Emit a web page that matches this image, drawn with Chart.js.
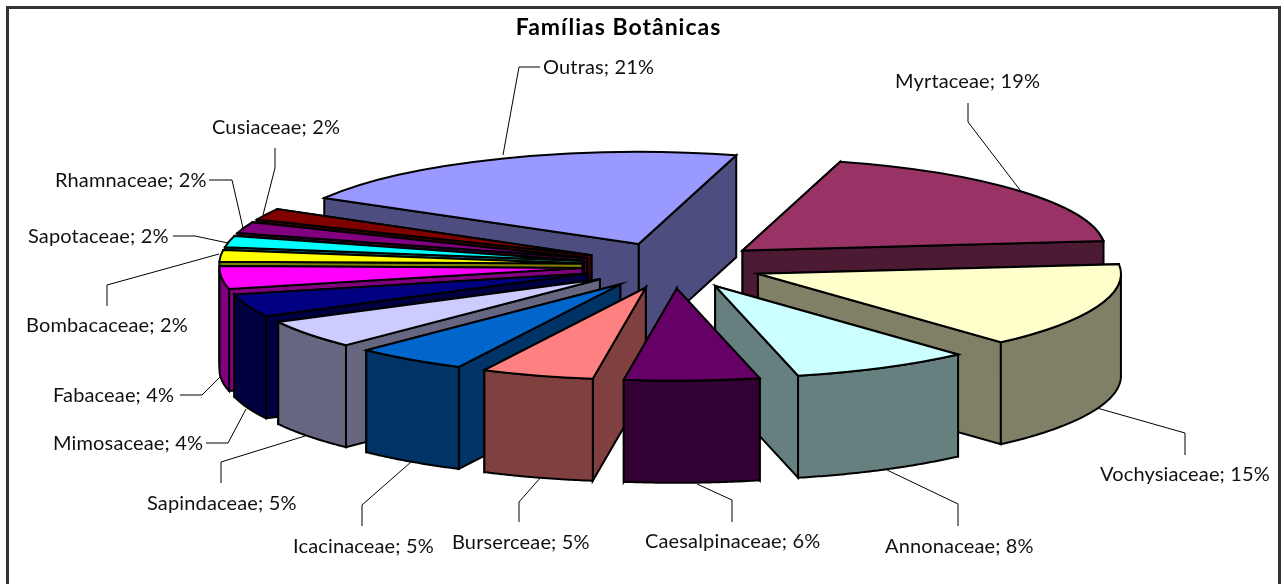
<!DOCTYPE html>
<html>
<head>
<meta charset="utf-8">
<title>Famílias Botânicas</title>
<script src="https://cdn.jsdelivr.net/npm/chart.js@4"></script>
<style>
  html, body { margin: 0; padding: 0; background: #fff; overflow: hidden; }
  canvas { display: block; }
</style>
</head>
<body>
<canvas id="myChart" width="1284" height="584"></canvas>
<script>
const families = ["Outras", "Myrtaceae", "Vochysiaceae", "Annonaceae", "Caesalpinaceae", "Burserceae", "Icacinaceae", "Sapindaceae", "Mimosaceae", "Fabaceae", "Bombacaceae", "Sapotaceae", "Rhamnaceae", "Cusiaceae"]
const percents = [21, 19, 15, 8, 6, 5, 5, 5, 4, 4, 2, 2, 2, 2]
const sliceColors = ["#9999FF", "#993366", "#FFFFCC", "#CCFFFF", "#660066", "#FF8080", "#0066CC", "#CCCCFF", "#000080", "#FF00FF", "#FFFF00", "#00FFFF", "#800080", "#800000"]

// look of the tilted pie, measured on the picture
const pieX = 673
const pieY = 265.5
const tilt = 0.254
const explode = 91
const pieRadius = 363
const wallDepth = 102

// label text position (left, middle) and leader line, one per family
const labelPlaces = [
  { x: 543, y: 68, line: [[540, 67], [519, 67], [503, 155]] },
  { x: 895, y: 82, line: [[968, 103], [968, 122], [1020, 190]] },
  { x: 1100, y: 475, line: [[1185, 455], [1185, 433], [1097, 408]] },
  { x: 885, y: 547, line: [[958, 526], [958, 504], [887, 470]] },
  { x: 645, y: 542, line: [[732, 522], [732, 500], [697, 484]] },
  { x: 452, y: 543, line: [[519, 522], [519, 502], [541, 477]] },
  { x: 293, y: 547, line: [[362, 526], [362, 505], [411, 462]] },
  { x: 147, y: 504, line: [[221, 483], [221, 462], [305, 436]] },
  { x: 53, y: 444, line: [[206, 443], [228, 443], [246, 409]] },
  { x: 53, y: 396, line: [[180, 395], [202, 395], [220, 377]] },
  { x: 26, y: 326, line: [[107, 306], [107, 285], [219, 254]] },
  { x: 28, y: 237, line: [[173, 236], [195, 236], [228, 243]] },
  { x: 55, y: 181, line: [[209, 180], [232, 180], [243, 228]] },
  { x: 212, y: 128, line: [[275, 148], [275, 168], [263, 215]] }
]

function halfColor(hex){
  const n = parseInt(hex.slice(1), 16)
  const r = Math.round((n >> 16) / 2)
  const g = Math.round(((n >> 8) & 255) / 2)
  const b = Math.round((n & 255) / 2)
  return "rgb(" + r + "," + g + "," + b + ")"
}

function midAngle(arc){
  return (arc.startAngle + arc.endAngle) / 2
}

// from the flat pie of the library to the tilted picture
function toScreen(arc, angle, r){
  const mid = midAngle(arc)
  return [
    pieX + explode * Math.cos(mid) + r * Math.cos(angle),
    pieY + tilt * (explode * Math.sin(mid) + r * Math.sin(angle))
  ]
}

function drawFace(ctx, points, color){
  ctx.beginPath()
  points.forEach((p, i) => {
    if(i == 0) ctx.moveTo(p[0], p[1])
    else ctx.lineTo(p[0], p[1])
  })
  ctx.closePath()
  ctx.fillStyle = color
  ctx.fill()
  ctx.stroke()
}

function drawWalls(ctx, arc, color){
  const tip = toScreen(arc, 0, 0)
  const radial = [arc.startAngle, arc.endAngle].map(angle => {
    const rim = toScreen(arc, angle, arc.outerRadius)
    return [tip, rim, [rim[0], rim[1] + wallDepth], [tip[0], tip[1] + wallDepth]]
  })
  // the face lying lower on the page goes on top
  radial.sort((a, b) => a[1][1] - b[1][1])
  radial.forEach(face => drawFace(ctx, face, color))

  // only the front half of the rim can be seen
  const top = []
  const steps = 60
  for(let i = 0; i <= steps; i++){
    const angle = arc.startAngle + (arc.endAngle - arc.startAngle) * i / steps
    if(Math.sin(angle) >= -0.02) top.push(toScreen(arc, angle, arc.outerRadius))
  }
  if(top.length > 1){
    const bottom = top.slice().reverse().map(p => [p[0], p[1] + wallDepth])
    drawFace(ctx, top.concat(bottom), color)
  }
}

function applyTilt(ctx, arc){
  const mid = midAngle(arc)
  ctx.translate(pieX, pieY)
  ctx.scale(1, tilt)
  ctx.translate(explode * Math.cos(mid), explode * Math.sin(mid))
  ctx.translate(-arc.x, -arc.y)
}

const pie3d = {
  id: "pie3d",
  beforeDraw(chart){
    const ctx = chart.ctx
    ctx.save()
    ctx.strokeStyle = "#333333"
    ctx.lineWidth = 3
    ctx.strokeRect(7.5, 7.5, 1272, 640)
    ctx.restore()
    // the original face runs wider than Lato, the title picks this up
    ctx.letterSpacing = "1px"
  },
  beforeDatasetsDraw(chart){
    const ctx = chart.ctx
    const arcs = chart.getDatasetMeta(0).data.slice()
    // back slices first so the front ones can hide them
    arcs.sort((a, b) => Math.sin(midAngle(a)) - Math.sin(midAngle(b)))
    arcs.forEach(arc => {
      const color = sliceColors[chart.getDatasetMeta(0).data.indexOf(arc)]
      ctx.save()
      ctx.strokeStyle = "#000000"
      ctx.lineWidth = 2
      ctx.lineJoin = "miter"
      drawWalls(ctx, arc, halfColor(color))

      ctx.save()
      applyTilt(ctx, arc)
      arc.draw(ctx)
      ctx.restore()

      // outline after the transform is gone, so the line keeps its width
      ctx.save()
      applyTilt(ctx, arc)
      ctx.beginPath()
      ctx.moveTo(arc.x, arc.y)
      ctx.arc(arc.x, arc.y, arc.outerRadius, arc.startAngle, arc.endAngle)
      ctx.closePath()
      ctx.restore()
      ctx.stroke()
      ctx.restore()
    })
    return false
  },
  afterDraw(chart){
    const ctx = chart.ctx
    ctx.save()
    ctx.letterSpacing = "0.15px"
    ctx.font = "20px Lato"
    ctx.fillStyle = "#111111"
    ctx.textAlign = "left"
    ctx.textBaseline = "middle"
    ctx.strokeStyle = "#000000"
    ctx.lineWidth = 1
    families.forEach((name, i) => {
      const place = labelPlaces[i]
      ctx.fillText(name + "; " + percents[i] + "%", place.x, place.y)
      ctx.beginPath()
      place.line.forEach((p, j) => {
        if(j == 0) ctx.moveTo(p[0], p[1])
        else ctx.lineTo(p[0], p[1])
      })
      ctx.stroke()
    })
    ctx.restore()
  }
}

new Chart("myChart", {
  type: "pie",
  data: {
    labels: families,
    datasets: [{
      data: percents,
      backgroundColor: sliceColors,
      borderWidth: 0
    }]
  },
  options: {
    responsive: false,
    animation: false,
    events: [],
    rotation: 300,
    radius: pieRadius,
    layout: { padding: { right: 47 } },
    plugins: {
      legend: { display: false },
      tooltip: { enabled: false },
      title: {
        display: true,
        text: "Famílias Botânicas",
        color: "#000000",
        font: { family: "Lato", size: 23, weight: "bold" },
        padding: { top: 14, bottom: 10 }
      }
    }
  },
  plugins: [pie3d]
})
</script>
</body>
</html>
